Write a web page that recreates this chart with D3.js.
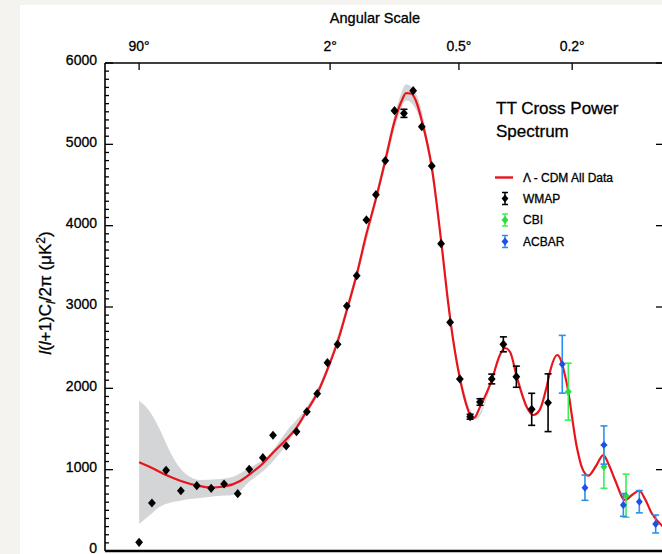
<!DOCTYPE html>
<html><head><meta charset="utf-8">
<script src="https://cdn.jsdelivr.net/npm/d3@7"></script>
<style>html,body{margin:0;padding:0;background:#f4f3ef;}svg{display:block;} text{stroke:#000;stroke-width:0.3px;}</style>
</head><body>
<script>
// ---------- data ----------
const angleTicks = [90, 2, 0.5, 0.2];            // degrees, l = 180/theta
const yTicks = [0, 1000, 2000, 3000, 4000, 5000, 6000];

const wmapL   = [2, 3, 4.5, 6.6, 9.6, 13.1, 17, 22, 27, 34, 40, 49, 57, 66, 76, 87, 99, 111, 125, 140, 156, 173, 191, 211, 232, 253, 279, 305, 332, 363, 398, 434, 480, 529, 588, 664, 753];
const wmapV   = [107, 590, 992, 741, 803, 771, 824, 705, 1005, 1147, 1423, 1291, 1467, 1713, 1934, 2315, 2541, 3012, 3385, 4070, 4381, 4799, 5414, 5381, 5660, 5217, 4734, 3778, 2812, 2115, 1651, 1832, 2115, 2541, 2143, 1742, 1823];
const wmapErr = [0, 0, 0, 0, 0, 0, 0, 0, 0, 0, 0, 0, 0, 0, 0, 0, 0, 0, 0, 0, 0, 0, 0, 50, 0, 0, 0, 0, 0, 0, 30, 40, 60, 92, 130, 197, 355];

const cbiL   = [875, 1125, 1305];
const cbiV   = [1959, 1036, 680];
const cbiErr = [350, 265, 265];

const acbarL   = [837, 986, 1125, 1282, 1423, 1579];
const acbarV   = [2296, 778, 1303, 566, 606, 332];
const acbarErr = [355, 155, 235, 140, 137, 110];

const modelL = [2, 3, 4.5, 6.6, 9.6, 13.1, 17, 23, 27.4, 33.7, 40.4, 48.6, 56.8, 65.8, 77, 88, 100, 111, 125, 140, 156, 173, 191, 205, 216, 227, 239, 253, 279, 305, 326, 334, 363, 384, 398, 412, 434, 480, 514, 536, 559, 590, 638, 672, 708, 745, 764, 807, 865, 930, 966, 1009, 1065, 1120, 1164, 1213, 1296, 1357, 1423, 1476, 1540, 1653];
const modelV = [1091, 1021, 935, 861, 806, 781, 793, 861, 947, 1070, 1217, 1365, 1512, 1721, 1960, 2260, 2600, 2960, 3400, 3900, 4330, 4800, 5280, 5520, 5630, 5625, 5530, 5290, 4720, 3820, 3050, 2800, 2123, 1807, 1672, 1635, 1771, 2102, 2410, 2496, 2447, 2143, 1774, 1672, 1742, 2020, 2205, 2410, 2062, 1282, 1021, 926, 1045, 1180, 1057, 873, 627, 689, 741, 639, 464, 300];

const bandL  = [2, 2.83, 3.8, 5.0, 6.5, 8.2, 10.3, 14.7, 20.3, 27.4, 36.2, 50, 66, 80, 120, 170, 200, 216, 240, 270, 300, 350, 420, 480];
const bandHi = [1848, 1713, 1488, 1221, 1017, 913, 873, 882, 914, 1029, 1152, 1488, 1770, 2090, 3300, 4790, 5540, 5740, 5610, 5000, 4050, 2470, 1660, 2120];
const bandLo = [332, 443, 545, 594, 618, 640, 652, 676, 689, 861, 1020, 1328, 1680, 2000, 3190, 4650, 5350, 5540, 5420, 4860, 3950, 2400, 1620, 2090];

// ---------- layout ----------
const W = 662, H = 554;
const pLeft = 105, pRight = 663, pTop = 63, pBottom = 551;
const FONT = '"Liberation Sans", Arial, Helvetica, sans-serif';

const x = d3.scalePow().exponent(0.25).domain([0.5257, 1653]).range([pLeft, pRight]);
const y = d3.scaleLinear().domain([0, 6000]).range([pBottom, pTop]);

const svg = d3.select("body").append("svg").attr("width", W).attr("height", H)
  .attr("font-family", FONT);

svg.append("rect").attr("width", W).attr("height", H).attr("fill", "#f4f3ef");
svg.append("rect").attr("x", 20).attr("y", 5).attr("width", W - 20).attr("height", H - 5).attr("fill", "#ffffff");

const diamond = (rh, rw) => ({ draw(ctx) { ctx.moveTo(0, -rh); ctx.lineTo(rw, 0); ctx.lineTo(0, rh); ctx.lineTo(-rw, 0); ctx.closePath(); } });

const plot = svg.append("g");

// band
plot.append("path")
  .datum(bandL.map((l, i) => ({ l, lo: bandLo[i], hi: bandHi[i] })))
  .attr("fill", "#d3d5d6")
  .attr("d", d3.area().x(d => x(d.l)).y0(d => y(d.lo)).y1(d => y(d.hi)).curve(d3.curveMonotoneX));

// model curve
plot.append("path")
  .datum(modelL.map((l, i) => ({ l, v: modelV[i] })))
  .attr("fill", "none").attr("stroke", "#e8141c").attr("stroke-width", 2.2)
  .attr("d", d3.line().x(d => x(d.l)).y(d => y(d.v)).curve(d3.curveMonotoneX));

function drawSeries(L, V, E, barColor, markColor, rh, rw) {
  const g = plot.append("g");
  L.forEach((l, i) => {
    const cx = x(l), e = E[i];
    if (e > 0) {
      const y1 = y(V[i] + e), y2 = y(V[i] - e);
      g.append("line").attr("x1", cx).attr("x2", cx).attr("y1", y1).attr("y2", y2).attr("stroke", barColor).attr("stroke-width", 1.6);
      [y1, y2].forEach(yy => g.append("line").attr("x1", cx - 3.5).attr("x2", cx + 3.5).attr("y1", yy).attr("y2", yy).attr("stroke", barColor).attr("stroke-width", 1.6));
    }
    g.append("path").attr("transform", `translate(${cx},${y(V[i])})`)
      .attr("d", d3.symbol().type(diamond(rh, rw))()).attr("fill", markColor);
  });
}
drawSeries(wmapL, wmapV, wmapErr, "#000", "#000", 4.6, 3.9);
drawSeries(cbiL, cbiV, cbiErr, "#3ded55", "#2bdc3c", 4.0, 3.4);
drawSeries(acbarL, acbarV, acbarErr, "#2b8ff0", "#1e4fe6", 4.0, 3.4);

// frame
const ax = svg.append("g").attr("stroke", "#000");
ax.append("line").attr("x1", pLeft).attr("x2", pRight).attr("y1", pTop).attr("y2", pTop).attr("stroke-width", 1.6);
ax.append("line").attr("x1", pLeft).attr("x2", pRight).attr("y1", pBottom).attr("y2", pBottom).attr("stroke-width", 2.6);
ax.append("line").attr("x1", pLeft).attr("x2", pLeft).attr("y1", pTop).attr("y2", pBottom).attr("stroke-width", 1.6);

// y ticks
d3.range(0, 6001, 100).forEach(v => {
  const major = v % 1000 === 0;
  ax.append("line").attr("x1", pLeft).attr("x2", pLeft + (major ? 8 : 4)).attr("y1", y(v)).attr("y2", y(v)).attr("stroke-width", 1.3);
});
yTicks.forEach(v => {
  ax.append("line").attr("x1", pRight).attr("x2", pRight - 7).attr("y1", y(v)).attr("y2", y(v)).attr("stroke-width", 1.3);
  svg.append("text").attr("x", 97).attr("y", y(v) - 2).attr("dy", "0.3em").attr("text-anchor", "end")
    .attr("font-size", 14).attr("fill", "#000").text(v);
});

// top ticks (angular scale)
angleTicks.forEach(t => {
  const tx = x(180 / t);
  ax.append("line").attr("x1", tx).attr("x2", tx).attr("y1", pTop).attr("y2", pTop + 7).attr("stroke-width", 1.3);
  svg.append("text").attr("x", tx).attr("y", 51).attr("text-anchor", "middle").attr("font-size", 14).attr("fill", "#000").text(t + "°");
});
svg.append("text").attr("x", 375).attr("y", 23).attr("text-anchor", "middle").attr("font-size", 14.5).attr("fill", "#000").text("Angular Scale");

// y title
const yt = svg.append("text").attr("transform", "translate(51,293) rotate(-90)").attr("text-anchor", "middle")
  .attr("font-size", 17).attr("fill", "#000");
yt.append("tspan").attr("font-style", "italic").text("l");
yt.append("tspan").text("(");
yt.append("tspan").attr("font-style", "italic").text("l");
yt.append("tspan").text("+1)C");
yt.append("tspan").attr("font-style", "italic").attr("font-size", 13).attr("dy", 3.5).text("l");
yt.append("tspan").attr("dy", -3.5).text("/2π (μK");
yt.append("tspan").attr("font-size", 12).attr("dy", -6).text("2");
yt.append("tspan").attr("dy", 6).text(")");

// legend
svg.append("text").attr("x", 496).attr("y", 114).attr("font-size", 17).attr("fill", "#000").text("TT Cross Power");
svg.append("text").attr("x", 496).attr("y", 137).attr("font-size", 17).attr("fill", "#000").text("Spectrum");

const leg = svg.append("g");
leg.append("line").attr("x1", 495).attr("x2", 513).attr("y1", 177.5).attr("y2", 177.5).attr("stroke", "#e8141c").attr("stroke-width", 2.4);
const legItems = [
  { label: "Λ - CDM All Data", y: 177.5 },
  { label: "WMAP", y: 198.5, bar: "#000", mark: "#000" },
  { label: "CBI", y: 220, bar: "#3ded55", mark: "#2bdc3c" },
  { label: "ACBAR", y: 241.5, bar: "#2b8ff0", mark: "#1e4fe6" }
];
legItems.forEach(it => {
  if (it.bar) {
    const cx = 505;
    leg.append("line").attr("x1", cx).attr("x2", cx).attr("y1", it.y - 6).attr("y2", it.y + 6).attr("stroke", it.bar).attr("stroke-width", 1.5);
    [it.y - 6, it.y + 6].forEach(yy => leg.append("line").attr("x1", cx - 3).attr("x2", cx + 3).attr("y1", yy).attr("y2", yy).attr("stroke", it.bar).attr("stroke-width", 1.5));
    leg.append("path").attr("transform", `translate(${cx},${it.y})`).attr("d", d3.symbol().type(diamond(4, 3.4))()).attr("fill", it.mark);
  }
  leg.append("text").attr("x", 523).attr("y", it.y).attr("dy", "0.36em").attr("font-size", 12).attr("fill", "#000").text(it.label);
});
</script>
</body></html>
